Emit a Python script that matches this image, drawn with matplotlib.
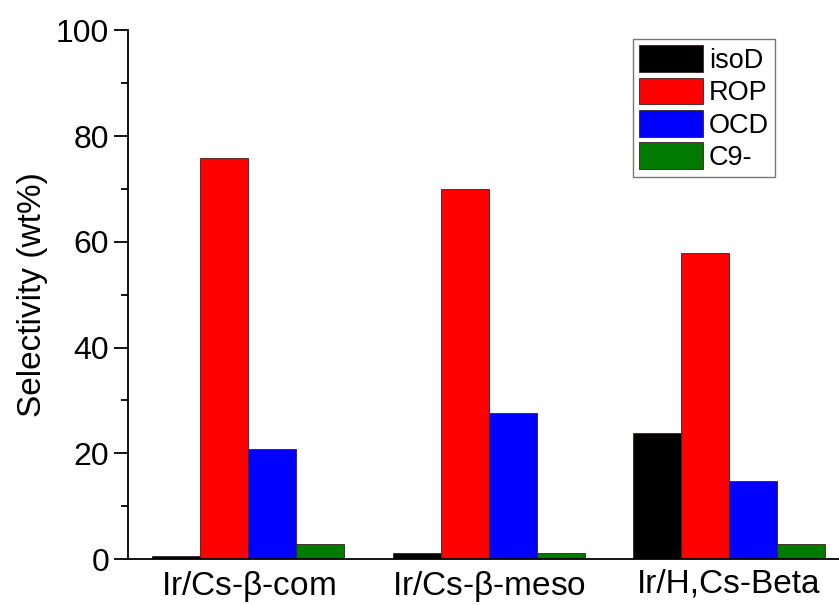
import numpy as np
import matplotlib.pyplot as plt
from matplotlib.ticker import MultipleLocator

# Data
catalysts = ["Ir/Cs-$\\mathregular{\\beta}$-com", "Ir/Cs-$\\mathregular{\\beta}$-meso", "Ir/H,Cs-Beta"]
series_names = ["isoD", "ROP", "OCD", "C9-"]
isoD = [0.5, 1.1, 23.9]
ROP = [75.8, 69.9, 57.9]
OCD = [20.8, 27.7, 14.8]
C9 = [2.9, 1.1, 2.9]
colors = ["#000000", "#ff0000", "#0000ff", "#007a00"]

plt.rcParams['font.family'] = ['Liberation Sans', 'DejaVu Sans']

fig = plt.figure(figsize=(8.39, 6.05), dpi=100)
ax = fig.add_axes([0.1526, 0.076, 0.8474, 0.874])

x = np.arange(len(catalysts))
width = 0.2
values = [isoD, ROP, OCD, C9]
for i, (name, vals) in enumerate(zip(series_names, values)):
	offset = (i - 1.5) * width
	ax.bar(x + offset, vals, width, color=colors[i], edgecolor="#3a2020",
		linewidth=0.6, label=name)

ax.set_xlim(-0.5, 2.457)
ax.set_ylim(0, 100)
ax.set_xticks(x)
ax.set_xticklabels(catalysts, fontsize=24)
ax.yaxis.set_major_locator(MultipleLocator(20))
ax.yaxis.set_minor_locator(MultipleLocator(10))
ax.tick_params(axis='y', which='major', labelsize=23, length=10, width=1.3, direction='out')
ax.tick_params(axis='y', which='minor', length=5, width=1.3, direction='out')
ax.tick_params(axis='x', length=0, pad=7)
ax.set_ylabel("Selectivity (wt%)", fontsize=24, labelpad=6)

for s in ['top', 'right']:
	ax.spines[s].set_visible(False)
for s in ['left', 'bottom']:
	ax.spines[s].set_linewidth(1.3)

leg = ax.legend(loc='upper right', bbox_to_anchor=(0.91, 0.983), fontsize=19.5,
	handlelength=2.35, handleheight=1.15, labelspacing=0.14, handletextpad=0.22,
	borderpad=0.22, borderaxespad=0, fancybox=False, frameon=True)
leg.get_frame().set_edgecolor("#555555")
leg.get_frame().set_linewidth(1.0)

fig.savefig("out.png", dpi=100)
